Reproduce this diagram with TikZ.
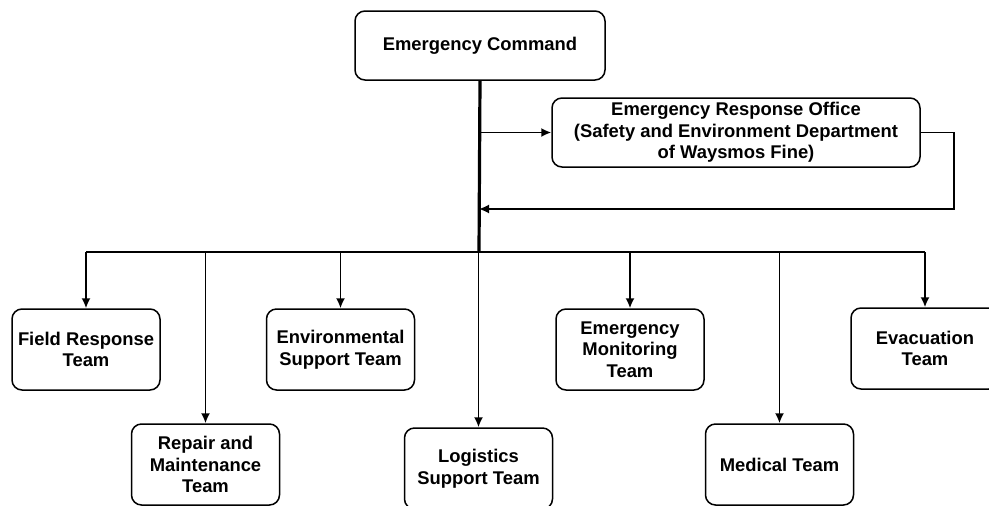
\documentclass[tikz,border=0pt]{standalone}
\usepackage{fontspec}
\setmainfont{Liberation Sans}
\usepackage{tikz}
\usetikzlibrary{arrows.meta}

\tikzset{
  unit/.style={rectangle, draw, rounded corners=10pt, line width=1.5pt, align=center,
    font=\fontsize{18.4}{21.6}\selectfont\bfseries, inner sep=2pt},
  team/.style={unit, minimum width=148pt, minimum height=81pt},
  link/.style={line width=1.7pt, -{Latex[length=10pt,width=9pt]}},
}

\begin{document}
\begin{tikzpicture}[x=1pt, y=-1pt]
    \useasboundingbox (0,0) rectangle (989,506);

    \node at (480,45.5) [unit, minimum width=250pt, minimum height=69pt] (Command) {Emergency Command};
    \node at (736,132.5) [unit, minimum width=368pt, minimum height=69pt] (Office) {Emergency Response Office\\(Safety and Environment Department\\of Waysmos Fine)};

    \node at (86,349.5) [team] (FieldResponse) {Field Response\\Team};
    \node at (340.5,349.5) [team] (Environmental) {Environmental\\Support Team};
    \node at (630,349.5) [team] (Monitoring) {Emergency\\Monitoring\\Team};
    \node at (925,348.5) [team] (Evacuation) {Evacuation\\Team};
    \node at (205.5,464.5) [team] (Repair) {Repair and\\Maintenance\\Team};
    \node at (478.5,468.5) [team] (Logistics) {Logistics\\Support Team};
    \node at (779.5,464.5) [team] (Medical) {Medical Team};

    \coordinate (Bus) at (479,252);
    \coordinate (Back) at (479,209);

    \draw[line width=3.2pt] (Command.south) -- (Bus);
    \draw[link] (Command.south |- Office.west) -- (Office.west);
    \draw[link] (Office.east) -- ++(33,0) |- (Back);

    \draw[link, -] (FieldResponse.north |- Bus) -- (Evacuation.north |- Bus);
    \foreach \team in {FieldResponse, Environmental, Monitoring, Evacuation, Repair, Logistics, Medical}
        \draw[link] (\team.north |- Bus) -- (\team.north);
\end{tikzpicture}
\end{document}
